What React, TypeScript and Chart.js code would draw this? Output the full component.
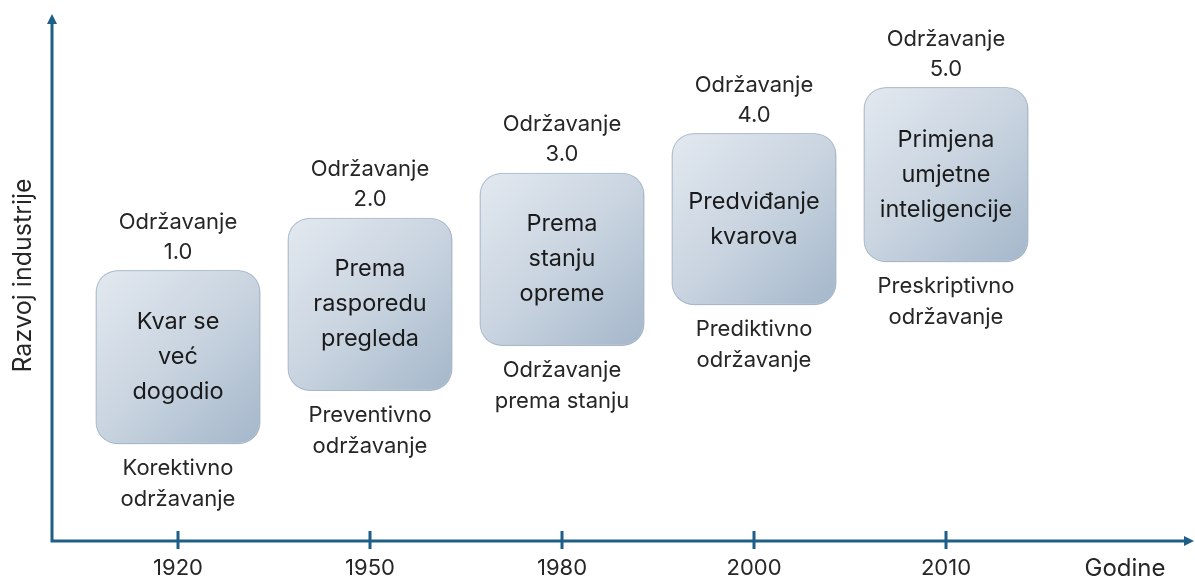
import React, { useEffect, useRef } from "react";
import { Chart, registerables } from "chart.js";

Chart.register(...registerables);

// ---- data ----
const years = ["1920", "1950", "1980", "2000", "2010"];
const boxBottoms = [18.5, 28.7, 37.3, 45.1, 53.3];
const boxTops = [51.8, 61.8, 70.4, 78.0, 86.8];
const stageNames = ["Održavanje", "Održavanje", "Održavanje", "Održavanje", "Održavanje"];
const stageVersions = ["1.0", "2.0", "3.0", "4.0", "5.0"];
const boxTexts = [
  ["Kvar se", "već", "dogodio"],
  ["Prema", "rasporedu", "pregleda"],
  ["Prema", "stanju", "opreme"],
  ["Predviđanje", "kvarova"],
  ["Primjena", "umjetne", "inteligencije"],
];
const maintenanceTypes = [
  ["Korektivno", "održavanje"],
  ["Preventivno", "održavanje"],
  ["Održavanje", "prema stanju"],
  ["Prediktivno", "održavanje"],
  ["Preskriptivno", "održavanje"],
];
const xTitle = "Godine";
const yTitle = "Razvoj industrije";

const FONT = "Inter, 'Liberation Sans', Arial, sans-serif";
const AXIS_COLOR = "#1d5f87";
const TEXT_COLOR = "#262626";

const shadowPlugin = {
  id: "boxShadow",
  beforeDatasetsDraw(chart: any) {
    const ctx = chart.ctx;
    ctx.save();
    ctx.shadowColor = "rgba(60, 80, 100, 0.22)";
    ctx.shadowBlur = 6;
    ctx.shadowOffsetX = 1.5;
    ctx.shadowOffsetY = 2;
  },
  afterDatasetsDraw(chart: any) {
    chart.ctx.restore();
  },
};

const labelsPlugin = {
  id: "stageLabels",
  afterDatasetsDraw(chart: any) {
    const ctx = chart.ctx;
    const meta = chart.getDatasetMeta(0);
    ctx.save();
    ctx.shadowColor = "transparent";
    ctx.textAlign = "center";
    ctx.textBaseline = "middle";
    meta.data.forEach((el: any, i: number) => {
      const cx = el.x;
      const top = Math.min(el.y, el.base);
      const bottom = Math.max(el.y, el.base);
      ctx.fillStyle = TEXT_COLOR;
      ctx.font = `22px ${FONT}`;
      ctx.fillText(stageNames[i], cx, top - 48);
      ctx.fillText(stageVersions[i], cx, top - 18);
      ctx.fillStyle = "#1a1a1a";
      ctx.font = `23.5px ${FONT}`;
      const lines = boxTexts[i];
      const lh = 35;
      const mid = (top + bottom) / 2;
      lines.forEach((t, k) => {
        ctx.fillText(t, cx, mid + (k - (lines.length - 1) / 2) * lh);
      });
      ctx.fillStyle = TEXT_COLOR;
      ctx.font = `22px ${FONT}`;
      maintenanceTypes[i].forEach((t, k) => {
        ctx.fillText(t, cx, bottom + 24 + k * 31);
      });
    });
    ctx.restore();
  },
};

const axesPlugin = {
  id: "arrowAxes",
  afterDraw(chart: any) {
    const ctx = chart.ctx;
    const area = chart.chartArea;
    const xs = chart.scales.x;
    const ax = area.left - 30;
    const ay = area.bottom;
    const w = chart.width;
    ctx.save();
    ctx.strokeStyle = AXIS_COLOR;
    ctx.fillStyle = AXIS_COLOR;
    ctx.lineWidth = 3;
    ctx.lineCap = "butt";
    ctx.beginPath();
    ctx.moveTo(ax, ay + 1.5);
    ctx.lineTo(ax, 22);
    ctx.moveTo(ax - 1.5, ay);
    ctx.lineTo(w - 9, ay);
    ctx.stroke();
    ctx.beginPath();
    ctx.moveTo(ax, 14);
    ctx.lineTo(ax - 5, 24);
    ctx.lineTo(ax + 5, 24);
    ctx.closePath();
    ctx.fill();
    ctx.beginPath();
    ctx.moveTo(w - 1, ay);
    ctx.lineTo(w - 11, ay - 5);
    ctx.lineTo(w - 11, ay + 5);
    ctx.closePath();
    ctx.fill();
    ctx.fillStyle = TEXT_COLOR;
    ctx.font = `22px ${FONT}`;
    ctx.textAlign = "center";
    ctx.textBaseline = "middle";
    years.forEach((y, i) => {
      const px = xs.getPixelForValue(i);
      ctx.beginPath();
      ctx.moveTo(px, ay - 10);
      ctx.lineTo(px, ay + 8);
      ctx.stroke();
      ctx.fillText(y, px, ay + 27);
    });
    ctx.font = `24px ${FONT}`;
    ctx.fillText(xTitle, w - 70, ay + 28);
    ctx.font = `25px ${FONT}`;
    ctx.translate(23, (area.top + area.bottom) / 2 - 4);
    ctx.rotate(-Math.PI / 2);
    ctx.fillText(yTitle, 0, 0);
    ctx.restore();
  },
};

export default function App() {
  const ref = useRef<HTMLCanvasElement | null>(null);
  useEffect(() => {
    if (!ref.current) return;
    const chart = new Chart(ref.current, {
      type: "bar",
      data: {
        labels: years,
        datasets: [
          {
            data: boxBottoms.map((b, i) => [b, boxTops[i]]) as any,
            backgroundColor: (c: any) => {
              const fallback = "#c4d0dd";
              const ch = c.chart;
              const xs = ch.scales && ch.scales.x;
              const ys = ch.scales && ch.scales.y;
              if (!xs || !ys || c.dataIndex === undefined || !Array.isArray(c.raw)) return fallback;
              const cx = xs.getPixelForValue(c.dataIndex);
              const top = ys.getPixelForValue(c.raw[1]);
              const bottom = ys.getPixelForValue(c.raw[0]);
              if (![cx, top, bottom].every((v) => Number.isFinite(v))) return fallback;
              const g = ch.ctx.createLinearGradient(cx - 85, top, cx + 85, bottom);
              g.addColorStop(0, "#e3e9f0");
              g.addColorStop(0.5, "#c9d4e0");
              g.addColorStop(1, "#a3b6ca");
              return g;
            },
            borderColor: "#b8c7d6",
            borderWidth: 1.5,
            borderRadius: 22,
            borderSkipped: false,
            barPercentage: 0.86,
            categoryPercentage: 1,
          },
        ],
      },
      options: {
        responsive: false,
        animation: false,
        layout: { padding: { left: 82, right: 153, top: 18, bottom: 37 } },
        scales: {
          x: { display: false },
          y: { display: false, min: 0, max: 100 },
        },
        plugins: {
          legend: { display: false },
          tooltip: { enabled: false },
        },
      },
      plugins: [shadowPlugin, labelsPlugin, axesPlugin],
    });
    chart.update();
    return () => chart.destroy();
  }, []);
  return (
    <div style={{ position: "absolute", left: 0, top: 0, width: 1195, height: 578, background: "#ffffff" }}>
      <canvas ref={ref} width={1195} height={578} style={{ display: "block" }} />
    </div>
  );
}
